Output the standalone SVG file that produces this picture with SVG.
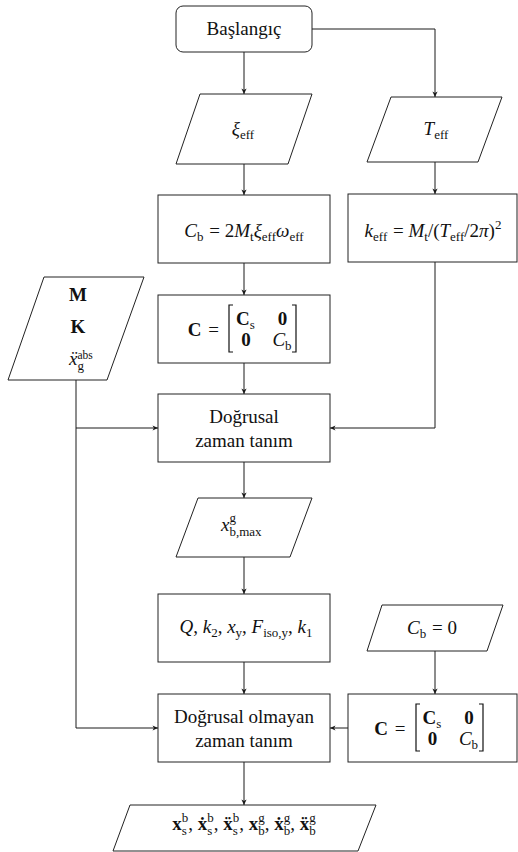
<svg xmlns="http://www.w3.org/2000/svg" width="518" height="852" viewBox="0 0 518 852">
<defs>
<style>
.n{fill:#fff;stroke:#222;stroke-width:1}
.c{fill:none;stroke:#1a1a1a;stroke-width:1}
.br{fill:none;stroke:#111;stroke-width:1.2}
text{font-family:"Liberation Serif","Times New Roman","DejaVu Serif",serif;font-size:19px;fill:#111;text-anchor:middle}
.i{font-style:italic}
.b{font-weight:bold}
.s{font-size:13px}
.ss{font-size:11.5px}
</style>
<marker id="ah" viewBox="-6 -3 7 6" refX="0" refY="0" markerWidth="7" markerHeight="6" markerUnits="userSpaceOnUse" orient="auto">
<path d="M0,0 L-5.5,-2.6 L-4,0 L-5.5,2.6 Z" fill="#1a1a1a"/>
</marker>
</defs>
<rect width="518" height="852" fill="#fff"/>

<g id="connectors">
<path class="c" d="M244,52 V94" marker-end="url(#ah)"/>
<path class="c" d="M312,29 H435 V97" marker-end="url(#ah)"/>
<path class="c" d="M244,164 V195" marker-end="url(#ah)"/>
<path class="c" d="M435,162 V194" marker-end="url(#ah)"/>
<path class="c" d="M244,263 V295" marker-end="url(#ah)"/>
<path class="c" d="M244,363 V394" marker-end="url(#ah)"/>
<path class="c" d="M435,262 V428 H330" marker-end="url(#ah)"/>
<path class="c" d="M76,380 V728 H158" marker-end="url(#ah)"/>
<path class="c" d="M76,428 H158" marker-end="url(#ah)"/>
<path class="c" d="M244,462 V498" marker-end="url(#ah)"/>
<path class="c" d="M244,557 V594" marker-end="url(#ah)"/>
<path class="c" d="M244,662 V694" marker-end="url(#ah)"/>
<path class="c" d="M435,651 V694" marker-end="url(#ah)"/>
<path class="c" d="M348,728 H330" marker-end="url(#ah)"/>
<path class="c" d="M244,762 V805" marker-end="url(#ah)"/>
</g>

<g id="start">
<rect class="n" x="176" y="6" width="136" height="46" rx="7"/>
<text x="244" y="35">Başlangıç</text>
</g>

<g id="xi">
<polygon class="n" points="200,94 312,94 288,164 176,164"/>
<text x="243" y="135"><tspan class="i">ξ</tspan><tspan class="s" dy="4">eff</tspan></text>
</g>

<g id="teff">
<polygon class="n" points="391,97 502,97 478,162 367,162"/>
<text x="436" y="135"><tspan class="i">T</tspan><tspan class="s" dy="4">eff</tspan></text>
</g>

<g id="cb">
<rect class="n" x="158" y="195" width="172" height="68"/>
<text x="244" y="237"><tspan class="i">C</tspan><tspan class="s" dy="4">b</tspan><tspan dy="-4" dx="1"> = 2</tspan><tspan class="i">M</tspan><tspan class="s" dy="4">t</tspan><tspan class="i" dy="-4">ξ</tspan><tspan class="s" dy="4">eff</tspan><tspan class="i" dy="-4">ω</tspan><tspan class="s" dy="4">eff</tspan></text>
</g>

<g id="keff">
<rect class="n" x="348" y="194" width="169" height="68"/>
<text x="433" y="237"><tspan class="i">k</tspan><tspan class="s" dy="4">eff</tspan><tspan dy="-4" dx="1"> = </tspan><tspan class="i">M</tspan><tspan class="s" dy="4">t</tspan><tspan dy="-4">/(</tspan><tspan class="i">T</tspan><tspan class="s" dy="4">eff</tspan><tspan dy="-4">/2</tspan><tspan class="i">π</tspan><tspan>)</tspan><tspan class="s" dy="-8">2</tspan></text>
</g>

<g id="cmatrix">
<rect class="n" x="158" y="295" width="172" height="68"/>
<text class="b" x="194.5" y="336">C</text>
<text x="213.5" y="336">=</text>
<path class="br" d="M233,305 H229 V352 H233"/>
<path class="br" d="M292,305 H296 V352 H292"/>
<text x="245.5" y="325"><tspan class="b">C</tspan><tspan class="s" dy="4">s</tspan></text>
<text class="b" x="246" y="346">0</text>
<text class="b" x="282.5" y="325">0</text>
<text x="282" y="346"><tspan class="i">C</tspan><tspan class="s" dy="4">b</tspan></text>
</g>

<g id="mk">
<polygon class="n" points="44,277 144,277 107,380 8,380"/>
<text class="b" x="78" y="301">M</text>
<text class="b" x="78" y="333">K</text>
<text x="69" y="365" style="text-anchor:start"><tspan class="i">x&#x308;</tspan><tspan class="ss" dy="-6">abs</tspan><tspan class="s" dx="-15.3" dy="11">g</tspan></text>
</g>

<g id="linear">
<rect class="n" x="158" y="394" width="172" height="68"/>
<text x="244" y="423">Doğrusal</text>
<text x="244" y="447">zaman tanım</text>
</g>

<g id="xbmax">
<polygon class="n" points="198,498 312,498 290,557 176,557"/>
<text x="221" y="531" style="text-anchor:start"><tspan class="i">x</tspan><tspan class="s" dy="-9">g</tspan><tspan class="s" dx="-6.5" dy="14">b,max</tspan></text>
</g>

<g id="params">
<rect class="n" x="158" y="594" width="172" height="68"/>
<text x="246" y="633"><tspan class="i">Q</tspan>, <tspan class="i">k</tspan><tspan class="s" dy="4">2</tspan><tspan dy="-4">, </tspan><tspan class="i">x</tspan><tspan class="s" dy="4">y</tspan><tspan dy="-4">, </tspan><tspan class="i">F</tspan><tspan class="s" dy="4">iso,y</tspan><tspan dy="-4">, </tspan><tspan class="i">k</tspan><tspan class="s" dy="4">1</tspan></text>
</g>

<g id="cb0">
<polygon class="n" points="382,605 503,605 487,651 367,651"/>
<text x="432" y="634"><tspan class="i">C</tspan><tspan class="s" dy="4">b</tspan><tspan dy="-4" dx="1"> = 0</tspan></text>
</g>

<g id="cmatrix2">
<rect class="n" x="348" y="694" width="169" height="68"/>
<text class="b" x="381" y="735">C</text>
<text x="400" y="735">=</text>
<path class="br" d="M420,704 H416 V751 H420"/>
<path class="br" d="M479,704 H483 V751 H479"/>
<text x="432" y="724"><tspan class="b">C</tspan><tspan class="s" dy="4">s</tspan></text>
<text class="b" x="432.5" y="745">0</text>
<text class="b" x="469" y="724">0</text>
<text x="468.5" y="745"><tspan class="i">C</tspan><tspan class="s" dy="4">b</tspan></text>
</g>

<g id="nonlinear">
<rect class="n" x="158" y="694" width="172" height="68"/>
<text x="244" y="723">Doğrusal olmayan</text>
<text x="244" y="747">zaman tanım</text>
</g>

<g id="output">
<polygon class="n" points="130,805 376,805 358,851 113,851"/>
<text x="244" y="830"><tspan class="b">x</tspan><tspan class="s" dy="-8">b</tspan><tspan class="s" dx="-6.5" dy="13">s</tspan><tspan dx="1.5" dy="-5">, </tspan><tspan class="b">x&#x307;</tspan><tspan class="s" dy="-8">b</tspan><tspan class="s" dx="-6.5" dy="13">s</tspan><tspan dx="1.5" dy="-5">, </tspan><tspan class="b">x&#x308;</tspan><tspan class="s" dy="-8">b</tspan><tspan class="s" dx="-6.5" dy="13">s</tspan><tspan dx="1.5" dy="-5">, </tspan><tspan class="b">x</tspan><tspan class="s" dy="-8">g</tspan><tspan class="s" dx="-6.5" dy="13">b</tspan><tspan dy="-5">, </tspan><tspan class="b">x&#x307;</tspan><tspan class="s" dy="-8">g</tspan><tspan class="s" dx="-6.5" dy="13">b</tspan><tspan dy="-5">, </tspan><tspan class="b">x&#x308;</tspan><tspan class="s" dy="-8">g</tspan><tspan class="s" dx="-6.5" dy="13">b</tspan></text>
</g>
</svg>
